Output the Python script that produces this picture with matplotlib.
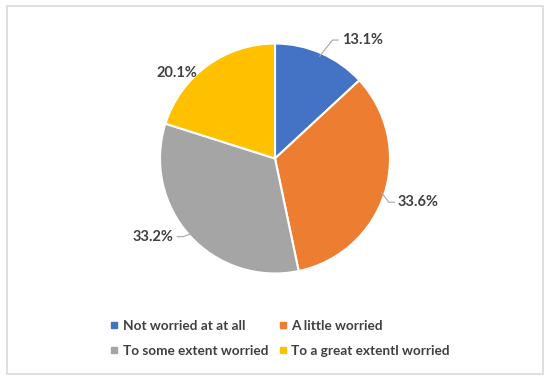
import numpy as np
import matplotlib
matplotlib.use("Agg")
import matplotlib.pyplot as plt
from matplotlib.lines import Line2D
from matplotlib.patches import Rectangle

# === Data ===
categories = ["Not worried at at all", "A little worried",
              "To some extent worried", "To a great extentl worried"]
shares = [13.1, 33.6, 33.2, 20.1]
colors = ["#4472C4", "#ED7D31", "#A5A5A5", "#FFC000"]

# label placement (data units, radius = 1) and alignment
label_pos = [(0.58, 1.03), (1.07, -0.38), (-0.88, -0.68), (-0.85, 0.74)]
label_ha = ["left", "left", "right", "center"]
leader = [True, True, True, False]

plt.rcParams['font.family'] = ['Lato', 'DejaVu Sans']
text_color = "#404040"

fig = plt.figure(figsize=(5.5, 3.82), dpi=100)
W, H = 550, 382

# light frame round the chart
fig.patches.append(Rectangle((7 / W, 8 / H), 536 / W, 368 / H,
                             transform=fig.transFigure, fill=False,
                             edgecolor="#d9d9d9", linewidth=1.2))

cx, cy, R = 275, 158.5, 115
ax = fig.add_axes([(cx - R) / W, (H - cy - R) / H, 2 * R / W, 2 * R / H])
wedges, _ = ax.pie(shares, colors=colors, startangle=90, counterclock=False,
                   radius=1, wedgeprops=dict(edgecolor="white", linewidth=1.5))
ax.set_xlim(-1, 1)
ax.set_ylim(-1, 1)
ax.set_aspect("equal")
ax.axis("off")

for w, val, (tx, ty), ha, ld in zip(wedges, shares, label_pos, label_ha, leader):
    ax.text(tx, ty, f"{val:.1f}%", ha=ha, va="center", fontsize=10.5,
            fontweight="bold", color=text_color, clip_on=False)
    if ld:
        mid = np.deg2rad((w.theta1 + w.theta2) / 2)
        x0, y0 = 0.97 * np.cos(mid), 0.97 * np.sin(mid)
        sign = 1 if ha == "left" else -1
        xe = tx - sign * 0.03
        xk = xe - sign * 0.05
        ax.plot([x0, xk, xe], [y0, ty, ty], color="#a6a6a6", lw=0.8,
                clip_on=False)

handles = [Line2D([], [], marker="s", linestyle="", markersize=4.5,
                  markerfacecolor=c, markeredgecolor=c) for c in colors]
order = [0, 2, 1, 3]
leg = fig.legend([handles[i] for i in order], [categories[i] for i in order],
                 ncol=2, loc="center", bbox_to_anchor=(280 / W, (H - 338.5) / H),
                 frameon=False, handlelength=0.6, handletextpad=0.35,
                 columnspacing=0.75, labelspacing=0.95,
                 prop=dict(size=9.8, weight="bold"))
for t in leg.get_texts():
    t.set_color(text_color)

fig.savefig("out.png", dpi=100)
